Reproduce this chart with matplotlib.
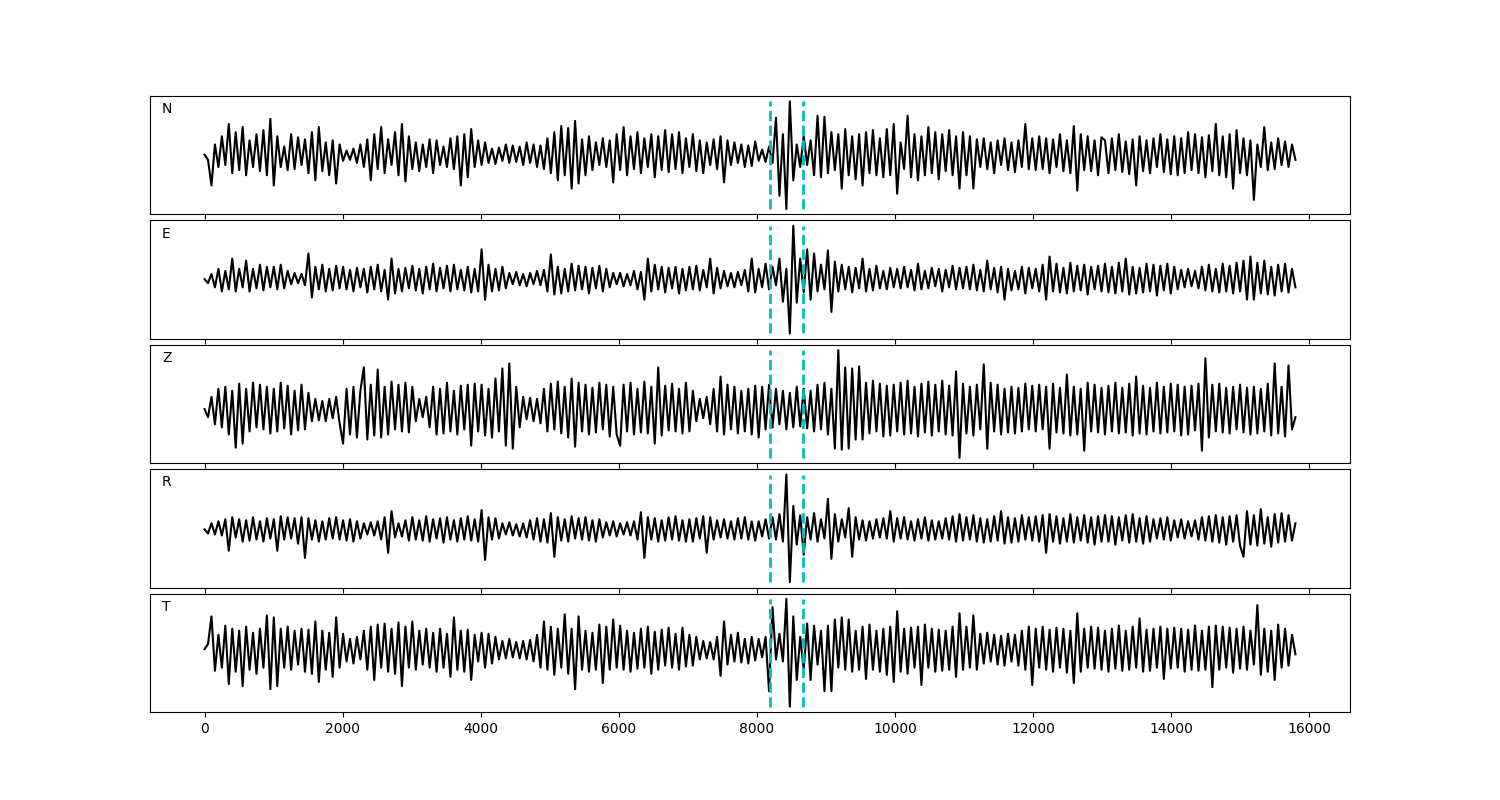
import matplotlib
matplotlib.use("Agg")
import matplotlib.pyplot as plt
import numpy as np

# trace end (samples) and pick window
n_end = 15800
pick_start = 8183
pick_end = 8666

components = ["N", "E", "Z", "R", "T"]

# extrema, one value every ~50 samples (arbitrary units)
trace_n = [
    0, -5, -30, 10, -12, 18, -10, 30, -18, 22, -15, 27, -20, 14, -12, 20, -16, 24, -20, 35,
    -30, 18, -12, 8, -15, 20, -14, 17, -10, 15, -18, 22, -25, 27, -16, 12, -20, 14, -28, 10,
    -6, 4, -5, 6, -8, 10, -12, 15, -25, 20, -14, 27, -18, 15, -10, 22, -20, 30, -26, 18,
    -14, 12, -16, 10, -12, 15, -18, 14, -10, 8, -12, 16, -14, 18, -30, 20, -22, 25, -12, 14,
    -10, 12, -8, 6, -9, 7, -6, 10, -8, 9, -7, 8, -10, 12, -8, 10, -12, 9, -14, 16,
    -18, 22, -25, 28, -20, 26, -33, 33, -28, 15, -20, 18, -15, 12, -10, 16, -12, 14, -27, 20,
    -15, 27, -20, 18, -14, 22, -18, 16, -12, 20, -22, 18, -15, 24, -17, 20, -14, 22, -18, 16,
    -12, 20, -16, 14, -18, 12, -10, 15, -14, 18, -27, 14, -10, 12, -8, 10, -12, 9, -11, 13,
    -6, 5, -7, 8, -8, 36, -40, 20, -53, 52, -25, 10, -12, 18, -10, 14, -20, 38, -22, 37,
    -18, 22, -15, 20, -33, 25, -20, 18, -24, 20, -30, 22, -18, 24, -20, 16, -22, 25, -20, 30,
    -38, 12, -14, 38, -22, 20, -25, 18, -20, 27, -18, 22, -24, 20, -16, 24, -20, 18, -33, 22,
    -20, 18, -33, 15, -12, 16, -14, 12, -18, 14, -10, 16, -15, 12, -17, 14, -12, 30, -14, 16,
    -15, 18, -14, 16, -18, 15, -12, 20, -16, 14, -18, 28, -35, 20, -15, 18, -16, 14, -20, 17,
    14, -18, 16, -15, 20, -17, 13, -19, 15, -30, 18, -16, 14, -18, 16, -12, 20, -17, 15, -19,
    18, -20, 16, -18, 22, -15, 20, -18, 17, -22, 19, -16, 30, -20, 18, -22, 20, -33, 24, -18,
    16, -20, 14, -44, 10, -12, 27, -15, 12, -14, 16, -10, 13, -12, 10, -5,
]

trace_e = [
    0, -4, 5, -8, 10, -12, 8, -10, 20, -12, 10, -8, 18, -12, 10, -9, 14, -11, 12, -8,
    12, -10, 14, -9, 8, -5, 6, -4, 5, -6, 25, -18, 12, -10, 14, -12, 10, -11, 13, -9,
    12, -10, 9, -12, 11, -8, 10, -13, 12, -10, 14, -12, 9, -20, 20, -14, 10, -12, 11, -9,
    13, -11, 10, -14, 12, -10, 15, -12, 11, -9, 13, -12, 14, -10, 9, -11, 12, -13, 10, -12,
    29, -20, 14, -12, 10, -11, 12, -9, 6, -5, 7, -6, 5, -7, 6, -5, 8, -6, 9, -12,
    24, -15, 12, -14, 10, -12, 15, -11, 13, -10, 12, -14, 11, -9, 13, -12, 10, -8, 6, -5,
    6, -7, 5, -6, 8, -10, 7, -20, 20, -12, 14, -10, 12, -13, 11, -9, 12, -14, 10, -11,
    12, -10, 13, -11, 9, -8, 20, -14, 11, -9, 8, -7, 6, -8, 7, -6, 9, -12, 20, -13,
    10, -8, 15, -10, 12, -6, 20, -22, 10, -53, 52, -23, 20, -13, 29, -20, 25, -12, 14, -10,
    28, -32, 17, -12, 14, -10, 12, -13, 11, -9, 20, -12, 10, -11, 13, -9, 8, -10, 11, -8,
    10, -9, 12, -8, 9, -11, 15, -10, 8, -9, 11, -7, 10, -12, 9, -8, 13, -10, 11, -9,
    12, -10, 14, -11, 9, -12, 18, -10, 11, -13, 12, -20, 10, -11, 8, -10, 12, -14, 11, -9,
    10, -12, 14, -20, 22, -12, 15, -13, 11, -14, 16, -12, 13, -11, 14, -15, 12, -10, 13, -12,
    15, -13, 12, -14, 16, -12, 20, -15, 12, -14, 11, -13, 15, -12, 14, -16, 13, -11, 15, -14,
    12, -10, 9, -8, 10, -7, 8, -9, 12, -11, 14, -12, 10, -13, 15, -12, 13, -14, 16, -12,
    18, -20, 22, -20, 16, -14, 18, -15, 12, -16, 14, -12, 15, -13, 10, -8,
]

trace_z = [
    0, -8, 12, -15, 20, -18, 22, -25, 18, -38, 25, -34, 20, -22, 26, -18, 24, -20, 22, -24,
    20, -22, 26, -19, 23, -25, 18, -21, 24, -20, 16, -12, 10, -11, 8, -12, 10, -9, 12, -14,
    -34, 20, -25, 22, -28, 18, 41, -30, 24, -26, 39, -28, 22, -25, 27, -20, 24, -22, 26, -23,
    22, -12, 10, -8, 12, -18, 22, -25, 20, -24, 26, -22, 18, -25, 23, -20, 24, -36, 25, -22,
    24, -26, 20, -28, 30, -22, 40, -36, 45, -39, 22, -18, 12, -10, 11, -12, 10, -14, 20, -22,
    25, -20, 27, -24, 22, -28, 30, -37, 26, -22, 24, -25, 21, -23, 26, -20, 24, -27, 22, -25,
    -36, 24, -22, 26, -25, 20, -23, 27, -24, 22, -34, 41, -26, 23, -21, 25, -22, 20, -24, 26,
    -22, 18, -12, 10, -9, 12, -15, 20, -22, 32, -25, 24, -20, 22, -24, 18, -22, 20, -25, 23,
    -28, 22, -20, 24, -18, 20, -15, 18, -20, 16, -18, 22, -17, 20, -19, 18, -22, 24, -20, 26,
    -25, 20, -39, 58, -40, 41, -39, 40, -30, 42, -30, 26, -24, 28, -22, 25, -27, 23, -26, 24,
    -22, 26, -25, 28, -24, 22, -27, 25, -23, 27, -26, 24, -22, 28, -25, 23, -26, 37, -48, 25,
    -24, 22, -26, 24, -20, 44, -39, 26, -22, 24, -25, 20, -23, 22, -24, 21, -22, 25, -20, 23,
    -22, 24, -20, 22, -39, 25, -23, 21, -24, 34, -26, 22, -25, 20, -41, 26, -22, 24, -23, 21,
    -25, 23, -22, 26, -24, 21, -23, 25, -26, 32, -24, 23, -25, 21, -22, 26, -24, 22, -23, 25,
    -22, 24, -26, 22, -25, 23, -21, 25, -41, 50, -28, 24, -22, 25, -23, 21, -24, 22, -20, 24,
    -23, 21, -25, 22, -24, 20, -22, 25, -26, 45, -24, 22, -27, 43, -20, -8,
]

trace_r = [
    0, -4, 6, -5, 8, -6, 10, -21, 12, -8, 10, -12, 9, -11, 12, -10, 8, -12, 11, -9,
    10, -21, 13, -10, 12, -9, 11, -14, 12, -28, 11, -10, 9, -12, 8, -10, 11, -9, 12, -10,
    9, -11, 10, -12, 8, -9, 6, -5, 7, -6, 8, -10, 12, -23, 18, -8, 6, -7, 9, -11,
    12, -10, 9, -11, 13, -12, 10, -9, 11, -13, 12, -10, 9, -12, 11, -10, 13, -11, 10, -12,
    19, -30, 12, -10, 11, -9, 6, -5, 7, -6, 5, -7, 6, -8, 9, -10, 11, -12, 10, -13,
    16, -27, 12, -11, 10, -12, 13, -9, 11, -10, 12, -11, 9, -12, 10, -8, 7, -6, 8, -7,
    6, -5, 7, -6, 8, -10, 17, -28, 12, -10, 11, -12, 9, -11, 12, -10, 13, -11, 9, -12,
    10, -12, 11, -9, 13, -23, 12, -10, 9, -8, 10, -9, 8, -10, 11, -9, 12, -10, 8, -11,
    8, -7, 10, -9, 12, -10, 15, -12, 54, -52, 23, -15, 14, -25, 12, -10, 16, -12, 10, -9,
    30, -29, 15, -12, 10, -8, 21, -27, 12, -10, 9, -11, 8, -9, 10, -8, 11, -9, 18, -12,
    11, -9, 12, -10, 8, -11, 10, -9, 12, -11, 9, -10, 8, -9, 11, -10, 13, -12, 15, -11,
    12, -10, 14, -12, 11, -13, 10, -12, 13, -11, 18, -14, 12, -13, 11, -12, 14, -10, 12, -11,
    13, -12, 14, -23, 15, -12, 13, -14, 11, -12, 15, -13, 12, -11, 14, -13, 12, -15, 13, -12,
    14, -12, 13, -15, 12, -11, 14, -13, 15, -12, 11, -14, 13, -12, 10, -9, 11, -10, 12, -11,
    9, -8, 10, -9, 8, -7, 9, -10, 12, -11, 13, -12, 14, -13, 12, -15, 13, -12, 14, -16,
    -27, 18, -15, 14, -16, 20, -14, 12, -17, 15, -13, 16, -12, 14, -11, 6,
]

trace_t = [
    0, 5, 32, -21, 14, -18, 23, -34, 20, -22, 18, -36, 22, -20, 16, -24, 20, -18, 33, -39,
    31, -36, 20, -18, 22, -20, 18, -15, 20, -22, 19, -24, 27, -32, 18, -20, 16, -27, 31, -18,
    15, -12, 10, -14, 12, -10, 18, -20, 22, -30, 24, -18, 25, -22, 20, -24, 26, -36, 22, -18,
    27, -20, 18, -15, 20, -18, 16, -22, 20, -18, 15, -27, 31, -20, 18, -22, 19, -30, 14, -12,
    16, -18, 15, -14, 12, -10, 8, -9, 10, -8, 7, -9, 8, -10, 9, -12, 14, -18, 27, -20,
    22, -25, 20, -18, 34, -24, 20, -39, 32, -20, 18, -22, 16, -20, 24, -33, 22, -20, 29, -18,
    23, -20, 18, -22, 16, -19, 20, -18, 22, -24, 17, -20, 19, -16, 21, -18, 15, -20, 21, -17,
    14, -16, 12, -10, 8, -9, 7, -10, 12, -26, 27, -15, 14, -12, 16, -13, 10, -14, 12, -11,
    10, -8, 12, -41, 41, -10, 15, -12, 49, -56, 32, -30, 12, -20, 25, -30, 23, -15, 18, -41,
    23, -41, 29, -18, 31, -20, 29, -22, 18, -20, 22, -29, 24, -20, 18, -22, 20, -25, 22, -32,
    37, -22, 20, -24, 21, -18, 22, -35, 24, -18, 20, -22, 19, -21, 18, -20, 22, -27, 35, -20,
    22, -18, 33, -20, 15, -14, 16, -12, 14, -15, 13, -16, 15, -12, 14, -16, 18, -20, 22, -35,
    20, -18, 22, -20, 19, -22, 21, -18, 20, -23, 18, -33, 35, -22, 20, -18, 22, -19, 21, -20,
    18, -22, 20, -19, 23, -21, 18, -20, 22, -18, 30, -22, 19, -21, 20, -18, 22, -29, 20, -19,
    21, -18, 20, -22, 19, -20, 23, -21, 18, -20, 22, -37, 23, -20, 22, -18, 21, -23, 20, -19,
    22, -20, 18, -15, 43, -25, 20, -22, 18, -30, 24, -18, 20, -16, 14, -5,
]

traces = [trace_n, trace_e, trace_z, trace_r, trace_t]

fig, axes = plt.subplots(5, 1, sharex=True, figsize=(15, 8), dpi=100)
fig.subplots_adjust(left=0.1, right=0.9, top=0.88, bottom=0.11, hspace=0.05)

for ax, comp, tr in zip(axes, components, traces):
    y = np.array(tr, dtype=float)
    t = np.linspace(0, n_end, len(y))
    ax.plot(t, y, color="k", lw=1.5)
    ax.vlines([pick_start, pick_end], y.min(), y.max(), colors="c",
              linestyles="--", lw=2)
    ax.text(0.01, 0.855, comp, transform=ax.transAxes, fontsize=10)
    ax.set_yticks([])

axes[-1].set_xlim(-790, 16590)
axes[-1].set_xticks(np.arange(0, 16001, 2000))

fig.savefig("out.png")
